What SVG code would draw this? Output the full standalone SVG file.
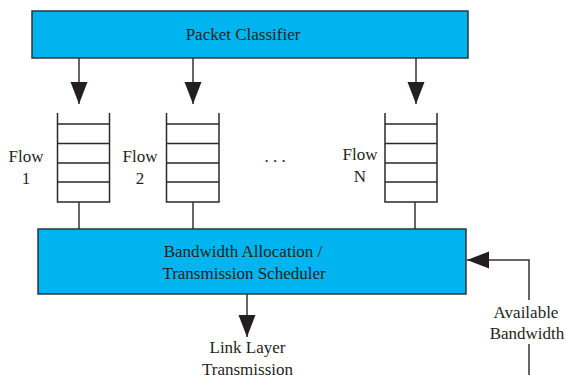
<svg xmlns="http://www.w3.org/2000/svg" width="566" height="375" viewBox="0 0 566 375">
<style>
.box{fill:#00b5ef;stroke:#333333;stroke-width:1.5}
.ln{fill:none;stroke:#333333;stroke-width:1.5}
.q{fill:none;stroke:#2a2a2a;stroke-width:1.5}
text{font-family:"Liberation Serif","Times New Roman",serif;font-size:17px;fill:#231f20;text-anchor:middle}
</style>
<defs>
<marker id="ah" markerUnits="userSpaceOnUse" markerWidth="24" markerHeight="18" refX="22" refY="8.5" orient="auto" viewBox="0 0 24 18">
<path d="M0,0 L22,8.5 L0,17 Z" fill="#231f20"/>
</marker>
</defs>
<rect width="566" height="375" fill="#ffffff"/>
<g id="connectors">
<line class="ln" x1="79" y1="58" x2="79" y2="104" marker-end="url(#ah)"/>
<line class="ln" x1="193" y1="58" x2="193" y2="104" marker-end="url(#ah)"/>
<line class="ln" x1="416" y1="58" x2="416" y2="104" marker-end="url(#ah)"/>
<line class="ln" x1="79" y1="202" x2="79" y2="229"/>
<line class="ln" x1="193" y1="202" x2="193" y2="229"/>
<line class="ln" x1="415" y1="202" x2="415" y2="229"/>
<line class="ln" x1="247" y1="294" x2="247" y2="337" marker-end="url(#ah)"/>
<polyline class="ln" points="529,300 529,260 467,260" marker-end="url(#ah)"/>
<line class="ln" x1="529" y1="344" x2="529" y2="375"/>
</g>
<g id="classifier">
<rect class="box" x="32" y="11" width="436" height="47"/>
<text x="243" y="40">Packet Classifier</text>
</g>
<g id="flow1">
<path class="q" d="M57.5,113 V202 H109.5 V113 M57.5,124 H109.5 M57.5,143.5 H109.5 M57.5,163 H109.5 M57.5,182 H109.5"/>
<text x="26" y="162">Flow</text>
<text x="26" y="184">1</text>
</g>
<g id="flow2">
<path class="q" d="M166.5,113 V202 H219 V113 M166.5,124 H219 M166.5,143.5 H219 M166.5,163 H219 M166.5,182 H219"/>
<text x="140" y="162">Flow</text>
<text x="140" y="184">2</text>
</g>
<g id="dots">
<text x="275" y="162">. . .</text>
</g>
<g id="flowN">
<path class="q" d="M385,113 V202 H437 V113 M385,124 H437 M385,143.5 H437 M385,163 H437 M385,182 H437"/>
<text x="360" y="160">Flow</text>
<text x="360" y="182">N</text>
</g>
<g id="scheduler">
<rect class="box" x="38" y="229" width="428" height="65"/>
<text x="243" y="257">Bandwidth Allocation /</text>
<text x="244" y="279">Transmission Scheduler</text>
</g>
<g id="linklayer">
<text x="247.5" y="353">Link Layer</text>
<text x="247.5" y="375">Transmission</text>
</g>
<g id="bandwidth">
<text x="526" y="318">Available</text>
<text x="527" y="339">Bandwidth</text>
</g>
</svg>
